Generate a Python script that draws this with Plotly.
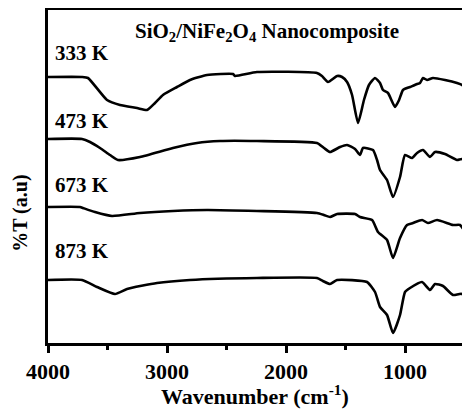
import plotly.graph_objects as go

# Wavenumber (cm-1) and stacked %T (a.u.) values
wn_333 = [4000, 3714, 3664, 3504, 3395, 3252, 3168, 3101, 3034, 2916, 2807, 2664, 2445, 2429, 2244,
          1740, 1698, 1647, 1571, 1529, 1487, 1445, 1395, 1345, 1303, 1252, 1210, 1185, 1143, 1084,
          1050, 1017, 958, 899, 874, 849, 815, 765, 664, 563, 521, 479, 454]
t_333 = [266, 266, 265, 243, 238, 235, 233, 240, 248, 256, 263, 268, 269, 267, 271,
         270, 267, 261, 267, 266, 261, 248, 220, 243, 258, 265, 260, 253, 250, 236,
         243, 253, 256, 259, 260, 265, 263, 265, 263, 260, 258, 253, 250]

wn_473 = [4000, 3714, 3647, 3563, 3479, 3412, 3227, 2950, 2748, 2555, 2244, 1740, 1681, 1630, 1546,
          1487, 1420, 1378, 1353, 1269, 1235, 1210, 1151, 1101, 1042, 1000, 941, 899, 849, 790,
          748, 664, 563, 521, 487, 454]
t_473 = [204, 204, 201, 195, 188, 183, 186, 195, 200, 202, 202, 200, 195, 191, 196,
         198, 194, 188, 195, 193, 183, 173, 163, 146, 166, 188, 185, 190, 193, 186,
         191, 189, 183, 184, 178, 163]

wn_673 = [4000, 3731, 3706, 3605, 3462, 3227, 2950, 2664, 2244, 1740, 1681, 1630, 1571, 1420,
          1378, 1277, 1227, 1151, 1101, 1042, 983, 933, 857, 807, 731, 597, 538, 496, 471, 454]
t_673 = [136, 136, 135, 131, 127, 130, 132, 133, 132, 130, 128, 126, 129, 129,
         126, 123, 111, 103, 85, 105, 118, 120, 123, 120, 123, 118, 118, 111, 105, 102]

wn_873 = [4000, 3714, 3588, 3437, 3336, 3084, 2807, 2244, 1740, 1690, 1630, 1571, 1319, 1252,
          1210, 1151, 1101, 1042, 1000, 958, 857, 790, 748, 681, 597, 521, 454]
t_873 = [63, 63, 56, 49, 54, 60, 63, 65, 65, 62, 59, 63, 61, 51,
         36, 28, 10, 28, 51, 55, 61, 53, 59, 57, 48, 49, 28]

series = [("333 K", wn_333, t_333), ("473 K", wn_473, t_473),
          ("673 K", wn_673, t_673), ("873 K", wn_873, t_873)]

x_ticks = [4000, 3000, 2000, 1000]
label_y = {"333 K": 0.871, "473 K": 0.667, "673 K": 0.474, "873 K": 0.276}

FONT = "Liberation Serif, Times New Roman, serif"

fig = go.Figure()
for name, wn, t in series:
    fig.add_trace(go.Scatter(x=wn, y=t, mode="lines", name=name,
                             line=dict(color="black", width=2.6, shape="spline", smoothing=0.5),
                             showlegend=False))

for name, _, _ in series:
    fig.add_annotation(text=name, xref="paper", yref="paper", x=0.012, y=label_y[name],
                       xanchor="left", yanchor="middle", showarrow=False,
                       font=dict(family=FONT, size=21, color="black", weight="bold"))

fig.add_annotation(text="SiO<sub>2</sub>/NiFe<sub>2</sub>O<sub>4</sub> Nanocomposite",
                   xref="paper", yref="paper", x=0.201, y=0.935, xanchor="left", yanchor="middle",
                   showarrow=False, font=dict(family=FONT, size=21, color="black", weight="bold"))

fig.add_annotation(text="%T (a.u)", xref="paper", yref="paper", x=-0.067, y=0.39,
                   xanchor="center", yanchor="middle", textangle=-90, showarrow=False,
                   font=dict(family=FONT, size=20, color="black", weight="bold"))

fig.add_annotation(text="Wavenumber (cm<sup>-1</sup>)", xref="paper", yref="paper",
                   x=0.49, y=-0.155, xanchor="center", yanchor="middle", showarrow=False,
                   font=dict(family=FONT, size=22, color="black", weight="bold"))

# page body has an 8px margin, so the figure is sized to fit the 470x417 window
fig.update_layout(
    width=462, height=409,
    margin=dict(l=40, r=0, t=2, b=74, autoexpand=False),
    paper_bgcolor="white", plot_bgcolor="white",
    xaxis=dict(range=[4000, 454], tickvals=x_ticks, ticktext=[str(v) for v in x_ticks],
               ticks="outside", ticklen=7, tickwidth=2.5, tickcolor="black",
               minor=dict(tickvals=[3500, 2500, 1500, 500], ticks="outside", ticklen=4,
                          tickwidth=2.5, tickcolor="black"),
               showline=True, linecolor="black", linewidth=2.5, mirror=True,
               showgrid=False, zeroline=False,
               tickfont=dict(family=FONT, size=22, color="black", weight="bold")),
    yaxis=dict(range=[0, 333], showticklabels=False, ticks="", showline=True,
               linecolor="black", linewidth=2.5, showgrid=False, zeroline=False),
)

fig.write_html("out.html")
